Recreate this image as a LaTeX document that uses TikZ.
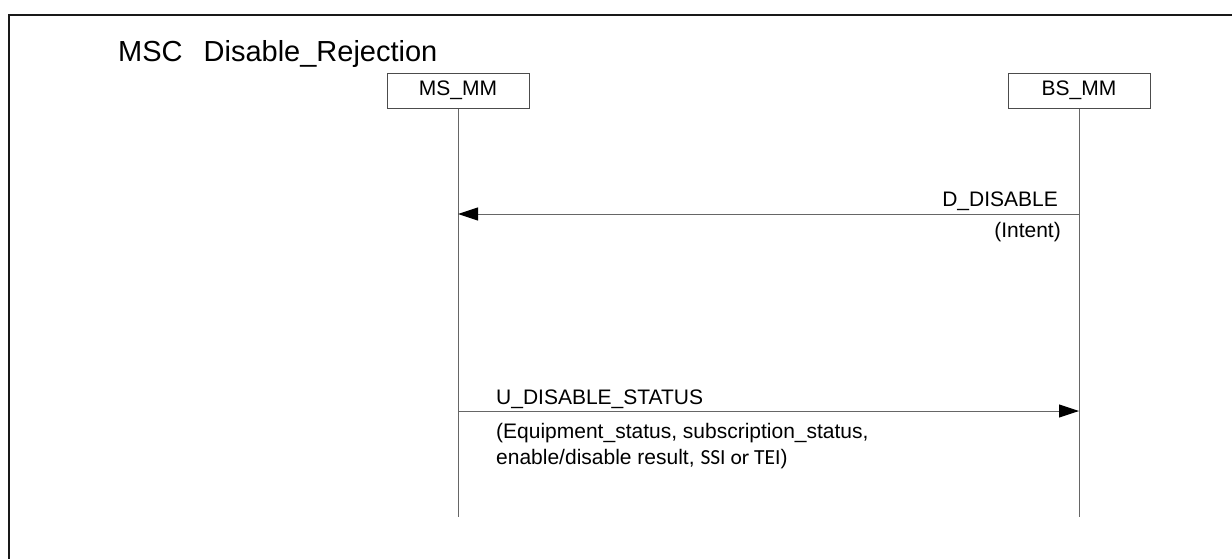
\documentclass[tikz,border=0pt]{standalone}
\usepackage{fontspec}
\setmainfont{Liberation Sans}
\newfontfamily\calibfont{Carlito}
\usetikzlibrary{arrows.meta}
\begin{document}
\begin{tikzpicture}[x=1pt,y=-1pt,
  lbl/.style={inner sep=0pt, font=\fontsize{21}{26}\selectfont},
  inst/.style={draw=black!70, line width=1pt, minimum width=142pt, minimum height=35pt, inner sep=0pt, font=\fontsize{21}{26}\selectfont},
  life/.style={draw=black!60, line width=1pt},
  msg/.style={draw=black!60, line width=1pt, -{Triangle[length=20pt,width=13pt,color=black]}},
  frame/.style={draw=black!90, line width=2pt}
]
\useasboundingbox (0,0) rectangle (1232,558);
% frame (open to right and bottom)
\coordinate (fbl) at (9,600);
\coordinate (ftl) at (9,15);
\coordinate (ftr) at (1250,15);
\draw[frame] (fbl) -- (ftl) -- (ftr);
% title
\node[anchor=base west, inner sep=0pt, font=\fontsize{29}{30}\selectfont] (title) at (118,61) {MSC\hspace{21pt}Disable\_Rejection};
% instances
\node[inst] (ms) at (458,90.5) {MS\_MM};
\node[inst] (bs) at (1079,90.5) {BS\_MM};
\coordinate (msend) at (458,517);
\coordinate (bsend) at (1079,517);
\draw[life] (ms.south) -- (msend);
\draw[life] (bs.south) -- (bsend);
% message 1
\coordinate (m1a) at (1079,214);
\coordinate (m1b) at (458,214);
\draw[msg] (m1a) -- (m1b);
\node[lbl, anchor=base east] (l1) at (1058,206) {D\_DISABLE};
\node[lbl, anchor=base east] (p1) at (1061,237) {(Intent)};
% message 2
\coordinate (m2a) at (458,411);
\coordinate (m2b) at (1079,411);
\draw[msg] (m2a) -- (m2b);
\node[lbl, anchor=base west] (l2) at (496,404) {U\_DISABLE\_STATUS};
\node[lbl, anchor=base west] (p2a) at (496,438) {(Equipment\_status, subscription\_status,};
\node[lbl, anchor=base west] (p2b) at (496,464) {enable/disable result, {\calibfont\fontsize{21.5}{26}\selectfont SSI or TEI})};
\end{tikzpicture}
\end{document}
